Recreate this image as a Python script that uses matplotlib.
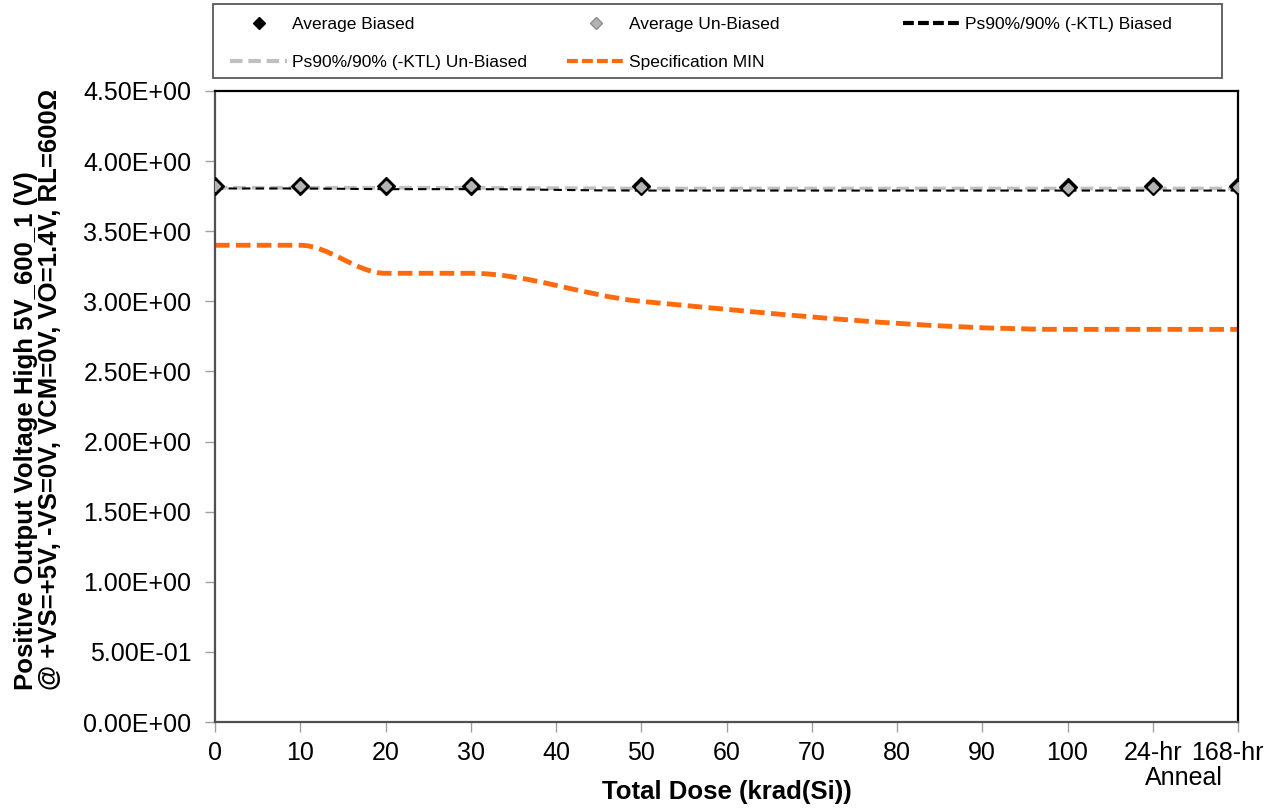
import numpy as np
import matplotlib
matplotlib.use('Agg')
import matplotlib.pyplot as plt
from matplotlib.path import Path
from matplotlib.patches import PathPatch, Rectangle
from matplotlib.lines import Line2D

plt.rcParams['font.family'] = ['Liberation Sans', 'DejaVu Sans']

# x positions (krad(Si)); 110 and 120 are the anneal steps
dose = [0, 10, 20, 30, 50, 100, 110, 120]
avg_biased = [3.82, 3.82, 3.82, 3.82, 3.82, 3.815, 3.82, 3.82]
avg_unbiased = [3.82, 3.82, 3.82, 3.82, 3.815, 3.81, 3.815, 3.815]
ps_biased = [3.805, 3.805, 3.80, 3.80, 3.79, 3.79, 3.79, 3.79]
ps_unbiased = [3.81, 3.81, 3.81, 3.81, 3.805, 3.805, 3.805, 3.805]
spec_min = [3.4, 3.4, 3.2, 3.2, 3.0, 2.8, 2.8, 2.8]

xtick_pos = [0, 10, 20, 30, 40, 50, 60, 70, 80, 90, 100, 110, 120]
xtick_lab = ['0', '10', '20', '30', '40', '50', '60', '70', '80', '90', '100', '24-hr', '168-hr']
yticks = np.arange(0, 4.51, 0.5)

W, H = 1276, 808


def smooth_path(x, y):
    # smoothed line through the points, flat where the data is flat (no overshoot)
    x = np.asarray(x, float)
    y = np.asarray(y, float)
    n = len(x)
    d = np.diff(y) / np.diff(x)
    m = np.zeros(n)
    for i in range(1, n - 1):
        if d[i - 1] * d[i] > 0:
            m[i] = 2 / (1 / d[i - 1] + 1 / d[i])
    verts = [(x[0], y[0])]
    codes = [Path.MOVETO]
    for i in range(n - 1):
        h = (x[i + 1] - x[i]) / 3
        verts += [(x[i] + h, y[i] + m[i] * h), (x[i + 1] - h, y[i + 1] - m[i + 1] * h),
                  (x[i + 1], y[i + 1])]
        codes += [Path.CURVE4] * 3
    return Path(verts, codes)


fig = plt.figure(figsize=(W / 100, H / 100), dpi=100)
ax = fig.add_axes([215 / W, 1 - 722 / H, (1238 - 215) / W, (722 - 91) / H])

ax.add_patch(PathPatch(smooth_path(dose, ps_unbiased), fill=False, edgecolor='#c0c0c0',
                       lw=2.6, linestyle=(0, (3.5, 1.6)), zorder=2))
ax.add_patch(PathPatch(smooth_path(dose, ps_biased), fill=False, edgecolor='black',
                       lw=1.5, linestyle=(0, (4, 2.5)), zorder=2))
ax.add_patch(PathPatch(smooth_path(dose, spec_min), fill=False, edgecolor='#ff6a0d',
                       lw=3.5, linestyle=(0, (3, 1.3)), zorder=2))
ax.plot(dose, avg_biased, linestyle='none', marker='D', markersize=9, color='black', zorder=3)
ax.plot(dose, avg_unbiased, linestyle='none', marker='D', markersize=5, markerfacecolor='#b3b3b3',
        markeredgecolor='#b3b3b3', zorder=4)

ax.set_xlim(0, 120)
ax.set_ylim(0, 4.5)
ax.set_xticks(xtick_pos)
ax.set_xticklabels(xtick_lab)
ax.set_yticks(yticks)
ax.set_yticklabels(['{:.2E}'.format(v) for v in yticks])
ax.tick_params(axis='both', direction='out', length=7, width=1, color='#a0a0a0',
               labelsize=18)
ax.tick_params(axis='y', pad=10)
ax.tick_params(axis='x', pad=7)

# last label sits slightly inside the figure, like the reference;
# same vertical placement as the other tick labels
last = ax.xaxis.get_major_ticks()[-1]
last.label1.set_visible(False)
ref = ax.xaxis.get_major_ticks()[-2].label1
fig.text(1264 / W, 0, xtick_lab[-1], ha='right', va='top', fontsize=18,
         transform=matplotlib.transforms.blended_transform_factory(fig.transFigure,
                                                                    ref.get_transform()))

for s in ['top', 'right']:
    ax.spines[s].set_color('black')
    ax.spines[s].set_linewidth(1.6)
for s in ['left', 'bottom']:
    ax.spines[s].set_color('#505050')
    ax.spines[s].set_linewidth(1.6)

fig.text(1184 / W, 1 - 778 / H, 'Anneal', ha='center', va='center', fontsize=18)
fig.text(727 / W, 1 - 792 / H, 'Total Dose (krad(Si))', ha='center', va='center',
         fontsize=18.5, fontweight='bold')
fig.text(38 / W, 1 - 690 / H, 'Positive Output Voltage High 5V_600_1 (V)\n'
         '@ +VS=+5V, -VS=0V, VCM=0V, VO=1.4V, RL=600\u03a9',
         rotation=90, ha='center', va='bottom', multialignment='left',
         fontsize=18.5, fontweight='bold', linespacing=1.05)

# legend: frame plus three columns placed like the reference
fig.patches.append(Rectangle((213 / W, 1 - 78 / H), (1222 - 213) / W, 74 / H,
                             transform=fig.transFigure, fill=False, edgecolor='#595959',
                             lw=1.3, zorder=5))

h_avg_b = Line2D([], [], linestyle='none', marker='D', markersize=6, color='black')
h_avg_u = Line2D([], [], linestyle='none', marker='D', markersize=6,
                 markerfacecolor='#b3b3b3', markeredgecolor='#8c8c8c')
h_ps_b = Line2D([], [], color='black', lw=3, linestyle=(0, (2.6, 1.0)))
h_ps_u = Line2D([], [], color='#c0c0c0', lw=3, linestyle=(0, (3.0, 1.4)))
h_spec = Line2D([], [], color='#ff6a0d', lw=3, linestyle=(0, (2.6, 1.0)))

columns = [
    (230, [h_avg_b, h_ps_u], ['Average Biased', 'Ps90%/90% (-KTL) Un-Biased']),
    (567, [h_avg_u, h_spec], ['Average Un-Biased', 'Specification MIN']),
    (903, [h_ps_b], ['Ps90%/90% (-KTL) Biased']),
]
for xpx, hs, ls in columns:
    fig.legend(hs, ls, loc='upper left', bbox_to_anchor=(xpx / W, 1 - 17 / H),
               frameon=False, fontsize=12.5, handlelength=3.3, handletextpad=0.25,
               borderpad=0, borderaxespad=0, labelspacing=1.3)

fig.savefig('out.png', dpi=100)
